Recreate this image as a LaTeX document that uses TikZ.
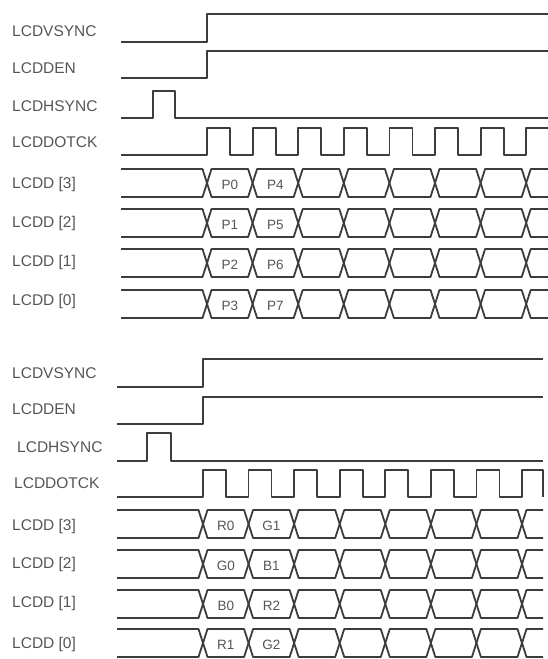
\documentclass[tikz,border=0pt]{standalone}
\usepackage{fontspec}
\setmainfont{Liberation Sans}
\definecolor{linegray}{HTML}{3C3C3C}
\definecolor{textgray}{HTML}{555555}
\begin{document}
\begin{tikzpicture}[x=1pt, y=-1pt,
  wave/.style={draw=linegray, line width=1.8pt, line join=round},
  sig/.style={anchor=west, inner sep=0pt, text=textgray, font=\fontsize{15.5}{18}\selectfont},
  val/.style={inner sep=0pt, text=textgray, font=\fontsize{13.5}{16}\selectfont}]
\useasboundingbox (0,0) rectangle (548,659);
\node[sig] (VS1) at (12,31) {LCDVSYNC};
\node[sig] (EN1) at (12,68) {LCDDEN};
\node[sig] (HS1) at (12,106) {LCDHSYNC};
\node[sig] (CK1) at (12,142) {LCDDOTCK};
\node[sig] (D31) at (12,184) {LCDD [3]};
\node[sig] (D21) at (12,223) {LCDD [2]};
\node[sig] (D11) at (12,262) {LCDD [1]};
\node[sig] (D01) at (12,301) {LCDD [0]};
\draw[wave] (121,42) -- (207,42) -- (207,14) -- (548,14);
\draw[wave] (121,78) -- (207,78) -- (207,51) -- (548,51);
\draw[wave] (121,118) -- (153,118) -- (153,91) -- (175,91) -- (175,118) -- (548,118);
\draw[wave] (121,155) foreach \k in {0,...,6} {
  -- ({207+45.6*\k},155) -- ({207+45.6*\k},128) -- ({230+45.6*\k},128) -- ({230+45.6*\k},155)}
  -- (526.2,155) -- (526.2,128) -- (548,128);
\foreach \yt/\va/\vb [count=\i] in {169/P0/P4, 209/P1/P5, 249/P2/P6, 290/P3/P7} {
  \pgfmathsetmacro{\yb}{\yt+28}
  \pgfmathsetmacro{\ym}{\yt+14}
  \draw[wave] (121,\yt) -- (202.5,\yt) -- (207,\ym) -- (202.5,\yb) -- (121,\yb);
  \foreach \k in {0,...,6} {
    \pgfmathsetmacro{\xa}{207+45.6*\k}
    \pgfmathsetmacro{\xb}{\xa+45.6}
    \draw[wave] (\xa,\ym) -- (\xa+4.5,\yt) -- (\xb-4.5,\yt) -- (\xb,\ym) -- (\xb-4.5,\yb) -- (\xa+4.5,\yb) -- cycle;
  }
  \draw[wave] (548,\yt) -- (530.7,\yt) -- (526.2,\ym) -- (530.7,\yb) -- (548,\yb);
  \node[val] (pa\i) at (229.8,\ym+2) {\va};
  \node[val] (pb\i) at (275.4,\ym+2) {\vb};
}
\node[sig] (VS2) at (12,373) {LCDVSYNC};
\node[sig] (EN2) at (12,409) {LCDDEN};
\node[sig] (HS2) at (17,447) {LCDHSYNC};
\node[sig] (CK2) at (14,483) {LCDDOTCK};
\node[sig] (D32) at (12,526) {LCDD [3]};
\node[sig] (D22) at (12,564) {LCDD [2]};
\node[sig] (D12) at (12,603) {LCDD [1]};
\node[sig] (D02) at (12,644) {LCDD [0]};
\draw[wave] (117,387) -- (203,387) -- (203,359) -- (543,359);
\draw[wave] (117,424) -- (203,424) -- (203,397) -- (543,397);
\draw[wave] (117,461) -- (147,461) -- (147,433) -- (171,433) -- (171,461) -- (543,461);
\draw[wave] (117,497) foreach \k in {0,...,6} {
  -- ({203+45.57*\k},497) -- ({203+45.57*\k},470) -- ({226+45.57*\k},470) -- ({226+45.57*\k},497)}
  -- (522,497) -- (522,470) -- (543,470) -- (543,497);
\foreach \yt/\va/\vb [count=\i] in {510/R0/G1, 550/G0/B1, 590/B0/R2, 629/R1/G2} {
  \pgfmathsetmacro{\yb}{\yt+28}
  \pgfmathsetmacro{\ym}{\yt+14}
  \draw[wave] (117,\yt) -- (198.5,\yt) -- (203,\ym) -- (198.5,\yb) -- (117,\yb);
  \foreach \k in {0,...,6} {
    \pgfmathsetmacro{\xa}{203+45.57*\k}
    \pgfmathsetmacro{\xb}{\xa+45.57}
    \draw[wave] (\xa,\ym) -- (\xa+4.5,\yt) -- (\xb-4.5,\yt) -- (\xb,\ym) -- (\xb-4.5,\yb) -- (\xa+4.5,\yb) -- cycle;
  }
  \draw[wave] (543,\yt) -- (526.5,\yt) -- (522,\ym) -- (526.5,\yb) -- (543,\yb);
  \node[val] (ra\i) at (225.8,\ym+2) {\va};
  \node[val] (rb\i) at (271.4,\ym+2) {\vb};
}
\end{tikzpicture}
\end{document}
